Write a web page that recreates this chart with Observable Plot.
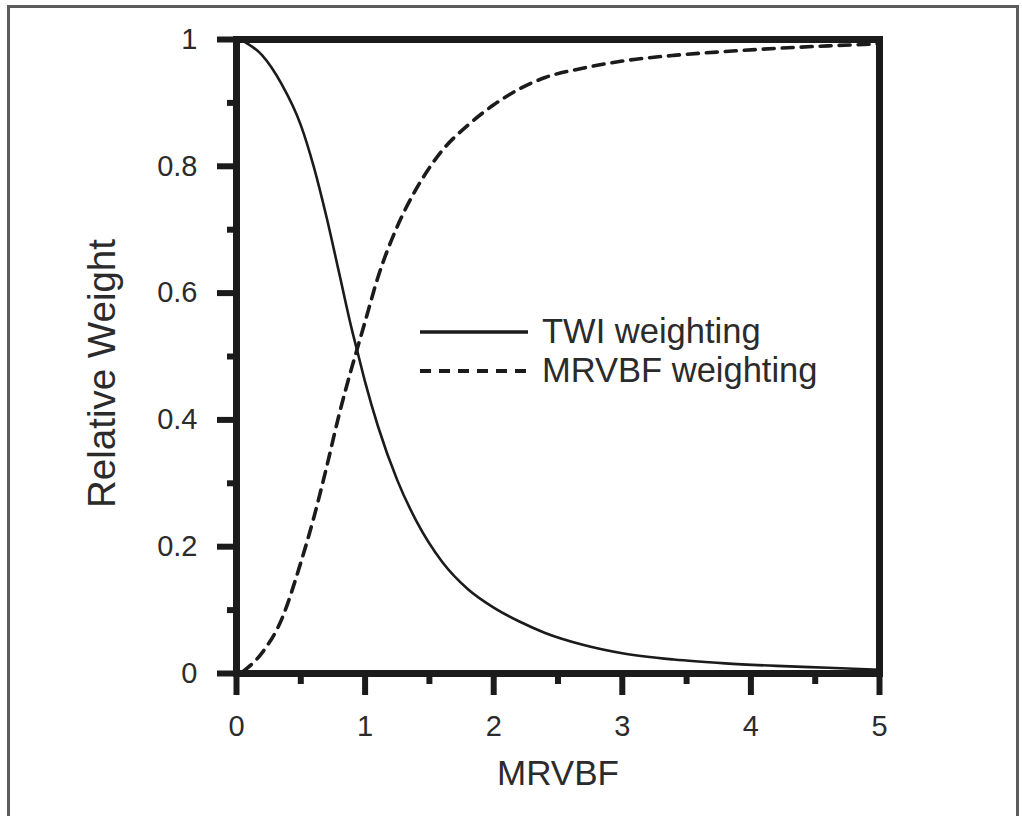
<!DOCTYPE html>
<html>
<head>
<meta charset="utf-8">
<script src="https://cdn.jsdelivr.net/npm/d3@7"></script>
<script src="https://cdn.jsdelivr.net/npm/@observablehq/plot@0.6"></script>
<style>
  html, body { margin: 0; padding: 0; background: #fff; }
  body { width: 1022px; height: 816px; position: relative; overflow: hidden; font-family: "Liberation Sans", Arial, sans-serif; }
  #border { position: absolute; left: 7px; top: 5px; width: 1012px; height: 840px; border: 3px solid #5c5c5c; box-sizing: border-box; }
  #chart { position: absolute; left: 0; top: 0; }
  #legend { position: absolute; left: 418px; top: 308px; }
</style>
</head>
<body>
<div id="border"></div>
<div id="chart"></div>
<div id="legend"></div>
<script>
// MRVBF values (x) sampled along the curves
const mrvbf = [0.05, 0.2, 0.35, 0.5, 0.6, 0.7, 0.8, 0.9, 0.95, 1.0, 1.1, 1.25, 1.4, 1.6, 1.8, 2.0, 2.2, 2.4, 2.7, 3.0, 3.4, 3.8, 4.2, 4.6, 5.0];
// Relative weight of TWI (solid line)
const twiWeight = [0.998, 0.975, 0.93, 0.865, 0.80, 0.72, 0.63, 0.54, 0.50, 0.46, 0.39, 0.305, 0.24, 0.176, 0.133, 0.104, 0.082, 0.064, 0.045, 0.032, 0.022, 0.016, 0.012, 0.009, 0.006];
// Relative weight of MRVBF (dashed line)
const mrvbfWeight = [0.003, 0.033, 0.085, 0.175, 0.245, 0.325, 0.41, 0.485, 0.52, 0.555, 0.625, 0.705, 0.765, 0.825, 0.865, 0.897, 0.922, 0.94, 0.955, 0.966, 0.975, 0.981, 0.986, 0.99, 0.993];

const xMajorTicks = [0, 1, 2, 3, 4, 5];
const xMinorTicks = [0.5, 1.5, 2.5, 3.5, 4.5];
const yMajorTicks = [0, 0.2, 0.4, 0.6, 0.8, 1];
const yMinorTicks = [0.1, 0.3, 0.5, 0.7, 0.9];
const xTitle = "MRVBF";
const yTitle = "Relative Weight";
const seriesNames = ["TWI weighting", "MRVBF weighting"];

const twiData = mrvbf.map((x, i) => ({x, y: twiWeight[i]}));
const mrvbfData = mrvbf.map((x, i) => ({x, y: mrvbfWeight[i]}));

const ink = "#1b1b1b";
const textInk = "#2b2b2b";
const font = "Liberation Sans, Arial, sans-serif";
const noLabel = () => "";

const chart = Plot.plot({
  width: 1022,
  height: 816,
  marginLeft: 236,
  marginRight: 143,
  marginTop: 39,
  marginBottom: 143,
  style: {background: "transparent", fontFamily: font, color: textInk, overflow: "visible"},
  x: {domain: [0, 5]},
  y: {domain: [0, 1]},
  marks: [
    Plot.line(twiData, {x: "x", y: "y", stroke: ink, strokeWidth: 2.6, curve: "monotone-x"}),
    Plot.line(mrvbfData, {x: "x", y: "y", stroke: ink, strokeWidth: 3.6, strokeDasharray: "11,8", curve: "monotone-x"}),
    Plot.axisX({ticks: xMinorTicks, tickSize: 11, strokeWidth: 6, stroke: ink, tickFormat: noLabel, label: null}),
    Plot.axisX({ticks: xMajorTicks, tickSize: 22, tickPadding: 20, strokeWidth: 6, stroke: ink, fontSize: 29, fill: textInk, tickFormat: d => String(d), label: null}),
    Plot.axisY({ticks: yMinorTicks, tickSize: 9, strokeWidth: 6, stroke: ink, tickFormat: noLabel, label: null}),
    Plot.axisY({ticks: yMajorTicks, tickSize: 19, tickPadding: 20, strokeWidth: 6, stroke: ink, fontSize: 29, fill: textInk, tickFormat: d => String(d), label: null}),
    Plot.frame({stroke: ink, strokeWidth: 7}),
    Plot.text([xTitle], {frameAnchor: "bottom", dy: 100, fontSize: 35, fill: textInk, lineAnchor: "middle"}),
    Plot.text([yTitle], {frameAnchor: "left", dx: -134, dy: 17, rotate: -90, fontSize: 38.5, fill: textInk, textAnchor: "middle", lineAnchor: "middle"})
  ]
});
document.getElementById("chart").appendChild(chart);

// Legend (overlay in the plot area)
const legend = d3.select("#legend").append("svg").attr("width", 420).attr("height", 90)
  .style("font-family", font);
const dashes = [null, "11,8"];
const widths = [3.4, 4];
seriesNames.forEach((name, i) => {
  const y = 24 + i * 39;
  legend.append("line").attr("x1", 2).attr("x2", 110).attr("y1", y).attr("y2", y)
    .attr("stroke", ink).attr("stroke-width", widths[i]).attr("stroke-dasharray", dashes[i]);
  legend.append("text").attr("x", 124).attr("y", y + 11).attr("font-size", 34.5).attr("fill", textInk).text(name);
});
</script>
</body>
</html>
